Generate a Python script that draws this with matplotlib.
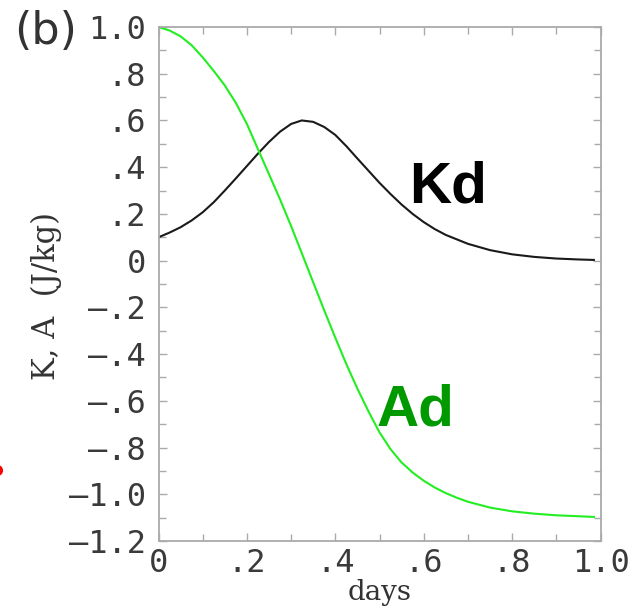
import matplotlib
matplotlib.use("Agg")
import matplotlib.pyplot as plt
from matplotlib.lines import Line2D

# ---- data ----
kd_x = [0.000, 0.025, 0.050, 0.075, 0.100, 0.125, 0.150, 0.175, 0.200, 0.225, 0.250,
        0.275, 0.300, 0.324, 0.350, 0.375, 0.400, 0.425, 0.450, 0.475, 0.500, 0.525,
        0.550, 0.575, 0.600, 0.625, 0.650, 0.700, 0.750, 0.800, 0.850, 0.900, 0.950, 0.985]
kd_y = [0.100, 0.120, 0.143, 0.172, 0.207, 0.250, 0.300, 0.352, 0.405, 0.458, 0.508,
        0.552, 0.585, 0.600, 0.594, 0.572, 0.538, 0.490, 0.437, 0.385, 0.333, 0.285,
        0.240, 0.200, 0.165, 0.135, 0.110, 0.072, 0.045, 0.027, 0.016, 0.009, 0.005, 0.003]

ad_x = [0.000, 0.025, 0.050, 0.075, 0.100, 0.125, 0.150, 0.175, 0.200, 0.225, 0.250,
        0.275, 0.300, 0.325, 0.350, 0.375, 0.400, 0.425, 0.450, 0.475, 0.500, 0.525,
        0.550, 0.575, 0.600, 0.625, 0.650, 0.675, 0.700, 0.750, 0.800, 0.850, 0.900,
        0.950, 0.985]
ad_y = [1.000, 0.985, 0.960, 0.922, 0.870, 0.812, 0.750, 0.675, 0.585, 0.477, 0.370,
        0.262, 0.148, 0.028, -0.093, -0.213, -0.330, -0.443, -0.548, -0.645, -0.735, -0.807,
        -0.864, -0.907, -0.942, -0.971, -0.995, -1.015, -1.032, -1.057, -1.073, -1.083, -1.090,
        -1.094, -1.097]

x_ticks = [0.0, 0.2, 0.4, 0.6, 0.8, 1.0]
x_ticklabels = ["0", ".2", ".4", ".6", ".8", "1.0"]
y_ticks = [1.0, 0.8, 0.6, 0.4, 0.2, 0.0, -0.2, -0.4, -0.6, -0.8, -1.0, -1.2]
y_ticklabels = ["1.0", ".8", ".6", ".4", ".2", "0", "\u2013.2", "\u2013.4", "\u2013.6",
                "\u2013.8", "\u20131.0", "\u20131.2"]

W, H = 631, 613
fig = plt.figure(figsize=(W / 100, H / 100), dpi=100)
ax = fig.add_axes([158.5 / W, (H - 541) / H, 442 / W, 514 / H])

ax.plot(kd_x, kd_y, color="#1a1a1a", lw=1.5)
ax.plot(ad_x, ad_y, color="#22ee22", lw=1.5)

ax.set_xlim(0, 1.0)
ax.set_ylim(-1.2, 1.0)

tickfont = dict(family="DejaVu Sans Mono", size=23, color="#3a3a3a")
ax.set_xticks(x_ticks)
ax.set_xticklabels(x_ticklabels, **tickfont)
ax.set_yticks(y_ticks)
ax.set_yticklabels(y_ticklabels, **tickfont)
ax.set_xticks([i / 10 for i in range(11)], minor=True)
ax.set_yticks([(-12 + i) / 10 for i in range(23)], minor=True)

axcol = "#aaaaaa"
for s in ax.spines.values():
    s.set_color(axcol)
    s.set_linewidth(1.3)
ax.tick_params(which="both", direction="in", top=True, right=True, color=axcol,
               width=1.0, length=6)
ax.tick_params(which="minor", length=5)
ax.tick_params(axis="x", which="major", pad=5)
ax.tick_params(axis="y", which="major", pad=9)

ax.set_xlabel("days", family="DejaVu Serif", size=20, color="#333333")
ax.xaxis.set_label_coords(0.5, (541 - 579) / 514)
ax.set_ylabel("K, A  (J/kg)", family="DejaVu Serif", size=22, color="#333333")
ax.yaxis.set_label_coords((62 - 158.5) / 442, (541 - 296) / 514)

ax.text(0.656, 0.313, "Kd", family="Liberation Sans", weight="bold", size=42,
        color="black", ha="center", va="center")
ax.text(0.582, -0.643, "Ad", family="Liberation Sans", weight="bold", size=42,
        color="#009900", ha="center", va="center")

fig.text(46 / W, 1 - 32 / H, "(b)", family="DejaVu Sans", size=32, color="#333333",
         ha="center", va="center")

# small red mark cut off at the left edge
fig.add_artist(Line2D([-3 / W], [1 - 469.5 / H], marker="o", markersize=7,
                      color="red", transform=fig.transFigure))

fig.savefig("out.png", dpi=100)
